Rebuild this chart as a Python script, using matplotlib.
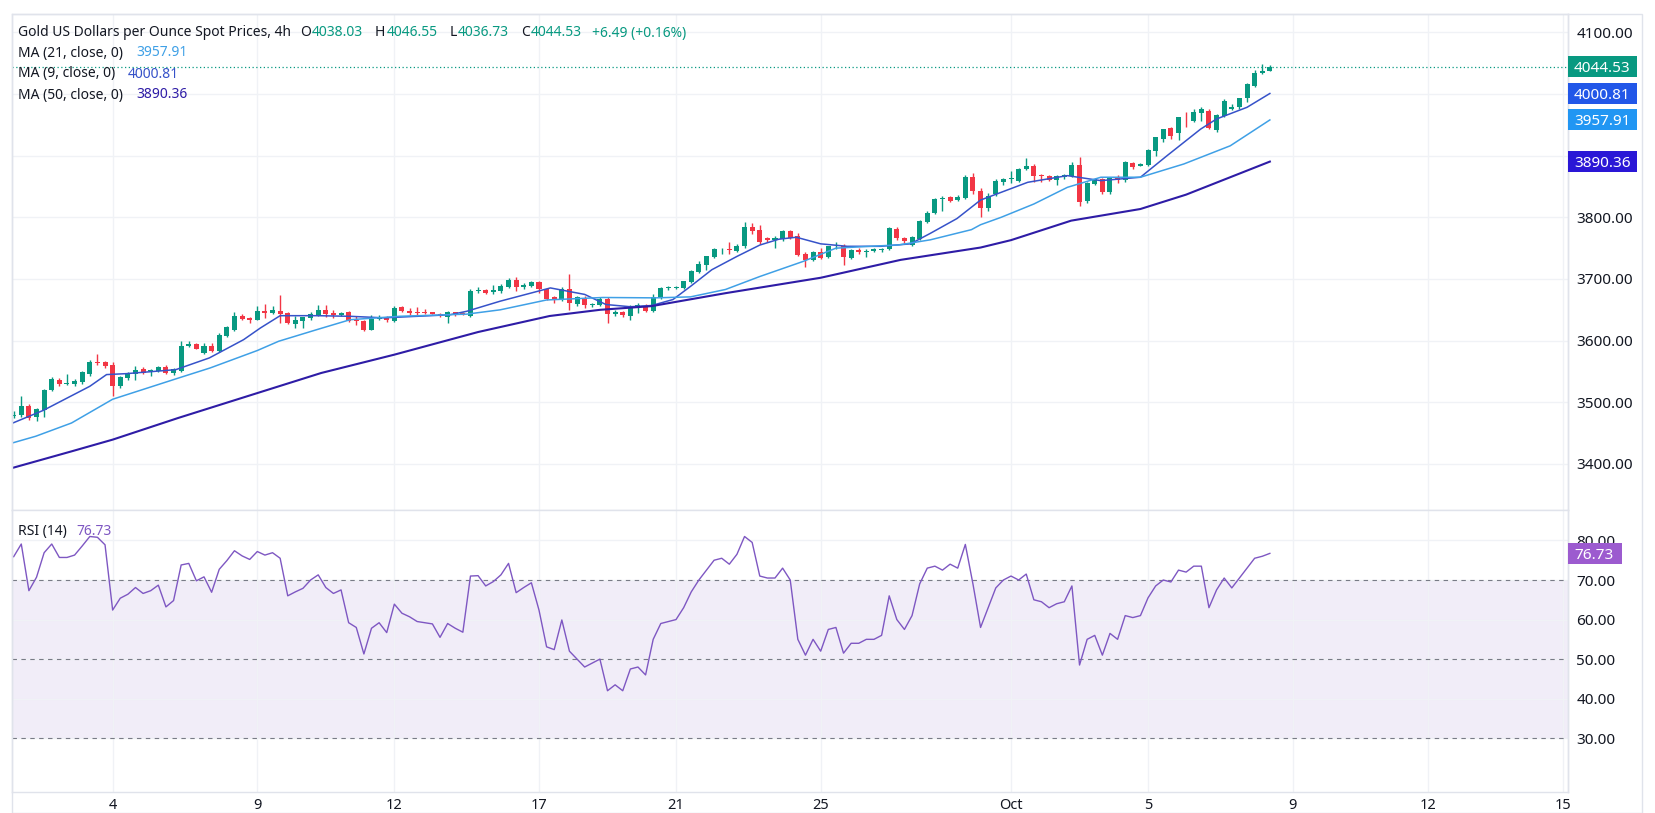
import matplotlib
matplotlib.use("Agg")
import matplotlib.pyplot as plt
from matplotlib.patches import Rectangle
from matplotlib.lines import Line2D

plt.rcParams['font.family'] = ['Noto Sans', 'DejaVu Sans']

# ---- data (4h candles, index 0 = first visible candle) ----
opens = [3478, 3480, 3494.6, 3476, 3488, 3519.5, 3537, 3530, 3530, 3533,
         3546.5, 3565, 3565, 3561, 3527, 3539.5, 3546, 3554, 3550, 3551.5,
         3557, 3547.6, 3551, 3591, 3595, 3580, 3592, 3582.5, 3608, 3618,
         3640.5, 3637, 3634, 3647.6, 3645, 3648.6, 3645, 3627.6, 3632.4, 3636.8,
         3642, 3650.3, 3645, 3642, 3646, 3634, 3631.4, 3618, 3635, 3638.4,
         3631.4, 3654, 3647.6, 3646, 3645, 3646, 3644, 3637.8, 3646.5, 3645,
         3639.5, 3681, 3681.6, 3678.4, 3680, 3686.6, 3698, 3687, 3689, 3694.6,
         3683, 3670, 3666.6, 3683.9, 3660, 3669.4, 3658, 3658.6, 3668, 3642.5,
         3646, 3640, 3657, 3657, 3648, 3669, 3685, 3685, 3685.5, 3694.6,
         3712, 3723, 3735.5, 3748, 3748, 3745.7, 3752.7, 3785, 3780, 3766,
         3764, 3764.7, 3778, 3770, 3741, 3731.6, 3743, 3736, 3753, 3754,
         3734, 3747.6, 3744, 3745, 3746.5, 3748.7, 3781.3, 3766, 3755.6, 3764.7,
         3793, 3806.4, 3830.5, 3833, 3828, 3832, 3865, 3843, 3815, 3838,
         3856.8, 3862, 3859.5, 3878.4, 3883.8, 3867.6, 3867.6, 3860, 3865, 3867,
         3885.4, 3826, 3854, 3862, 3840.5, 3864.9, 3860.5, 3888, 3884, 3885.4,
         3908, 3927, 3944.9, 3936, 3961, 3956.8, 3968.6, 3973, 3941.6, 3964.9,
         3976, 3978.4, 3993.5, 4013.5, 4033.5, 4038.03]
highs = [3486, 3510, 3498, 3490, 3521, 3541, 3539, 3546, 3538, 3550,
         3568, 3579, 3566.5, 3565, 3543, 3549, 3559, 3556.5, 3554, 3559,
         3561, 3555, 3599, 3599, 3596, 3596, 3597, 3613, 3624, 3646,
         3643, 3638, 3655.7, 3660, 3656.8, 3674.6, 3647, 3640, 3639, 3646,
         3658, 3658, 3650, 3647, 3648, 3640, 3633, 3642, 3642, 3640,
         3656, 3657, 3653, 3654, 3652, 3647, 3645, 3648, 3647, 3646,
         3683, 3687, 3683, 3690.8, 3692, 3701.6, 3703, 3694, 3697, 3696,
         3685, 3672, 3687, 3708.6, 3673, 3672, 3661, 3670, 3670, 3650,
         3648, 3658, 3661, 3659, 3676, 3687, 3688, 3689, 3697, 3714,
         3729, 3738, 3750, 3750, 3759.7, 3757, 3792, 3790, 3787, 3768,
         3770, 3779, 3779, 3775, 3743, 3745, 3751, 3754, 3760, 3756,
         3749, 3750, 3749, 3750, 3751, 3784, 3784, 3768, 3770, 3796,
         3810, 3832, 3834, 3835, 3836, 3868, 3871.4, 3848, 3840, 3862,
         3863, 3874.6, 3880, 3896, 3886, 3870, 3869, 3868, 3870, 3889,
         3897.3, 3857, 3863, 3864, 3866, 3868, 3891, 3890, 3888, 3910,
         3931, 3944, 3947, 3963, 3970, 3976, 3978.4, 3975, 3967, 3992,
         3983, 3994, 4018, 4039, 4048.6, 4046.55]
lows = [3474, 3476, 3472, 3470, 3476, 3518, 3527, 3528, 3527, 3530,
        3542, 3561, 3556, 3511, 3524, 3537, 3537, 3546, 3542, 3549,
        3546, 3545, 3549, 3590, 3586, 3579, 3581, 3581, 3606, 3616,
        3633, 3629, 3633, 3636.7, 3643, 3628.6, 3627, 3620.5, 3620, 3634,
        3640, 3639, 3637, 3640, 3630, 3626, 3616, 3617, 3633, 3631,
        3630, 3646, 3642, 3642, 3644, 3643, 3638, 3628.6, 3640, 3642,
        3638, 3677, 3676, 3676, 3678, 3685, 3681, 3684, 3687, 3677,
        3666, 3661, 3664, 3650.5, 3657, 3653, 3654, 3656, 3629, 3640,
        3638, 3634, 3645, 3646, 3646, 3667, 3682, 3683, 3684, 3693,
        3710, 3715, 3734, 3740, 3740, 3744, 3751, 3773, 3756, 3760,
        3750, 3762, 3765, 3738, 3720, 3729, 3732, 3734, 3748, 3723,
        3733, 3741, 3735, 3743, 3744, 3747, 3764, 3759, 3754, 3763,
        3791, 3805, 3811, 3825, 3826, 3830, 3838, 3800, 3810, 3834,
        3852, 3855, 3857, 3876, 3857, 3857, 3859, 3852, 3862, 3865,
        3818.9, 3823, 3852, 3837.8, 3838, 3855, 3858, 3878, 3883, 3884,
        3900, 3922, 3927, 3926, 3946, 3955, 3956.8, 3944, 3938, 3962,
        3974, 3976, 3986.5, 4012, 4032.4, 4036.73]
closes = [3480, 3494.6, 3475, 3489, 3520.5, 3538, 3530, 3531.5, 3534.5, 3548.6,
          3565.5, 3563.5, 3559, 3527, 3541.5, 3547.6, 3553, 3548, 3553, 3557,
          3547.6, 3554, 3592, 3595, 3586.5, 3591, 3582.5, 3609.7, 3621.6, 3640.5,
          3635, 3634, 3647.6, 3645, 3649, 3643.8, 3628.6, 3634, 3637.8, 3643.8,
          3650.3, 3643.8, 3642, 3645, 3631.4, 3631.4, 3617.8, 3635.7, 3638.4, 3633,
          3653, 3647.6, 3645, 3645, 3644.6, 3644, 3639.5, 3646.5, 3644, 3644,
          3681, 3681.6, 3677, 3682.5, 3688.2, 3698, 3686.6, 3691, 3694.6, 3683,
          3667.7, 3667.7, 3683.9, 3661, 3671, 3658.6, 3658.5, 3667.7, 3642.5, 3646,
          3641, 3656, 3657.5, 3648, 3671, 3685.5, 3685.5, 3687, 3696, 3712.4,
          3725, 3736.6, 3748.4, 3749, 3747, 3753.8, 3785, 3778.6, 3760, 3764,
          3766, 3778, 3766, 3739.6, 3731.6, 3743, 3734.5, 3753, 3753.5, 3735,
          3747.6, 3743, 3745, 3748, 3748.7, 3782.6, 3766, 3761, 3768, 3794.7,
          3807.5, 3830.5, 3832, 3826.7, 3833, 3865, 3843, 3815, 3835, 3858.4,
          3862, 3862.5, 3878.4, 3884, 3867, 3867.3, 3861, 3866.5, 3868, 3885.4,
          3824.3, 3855, 3862, 3840.5, 3864.9, 3860.5, 3889, 3882, 3886, 3909,
          3929.7, 3943.2, 3932.4, 3962.2, 3960.5, 3970.3, 3975.7, 3944.9, 3966.5, 3988,
          3979.4, 3993.5, 4016.2, 4033.5, 4037.8, 4044.53]

# moving averages, read at points along each line (candle index, value)
ma9_x = [-0.2, 3.9, 10, 12.2, 14.8, 21.3, 25.7, 30.2, 32.4, 35, 39.8, 44.2, 48.6, 53,
         57.3, 59.5, 63.9, 70.5, 75, 77.8, 81, 83.8, 86.6, 88.9, 91.7, 95, 98, 100.5,
         102.8, 106, 109.5, 113.9, 117.8, 120.4, 123.9, 127, 129.7, 133.2, 138.4,
         142.8, 148, 151.5, 155.9, 158, 162, 165]
ma9_v = [3466, 3487, 3526, 3545, 3546.5, 3553, 3572, 3601.6, 3620.5, 3640.5, 3640.5,
         3639.5, 3637, 3639.5, 3642, 3647.6, 3664, 3685.5, 3675, 3658.6, 3655, 3657,
         3666.7, 3688, 3715, 3736.6, 3755, 3764.5, 3767.7, 3757, 3753, 3753, 3757,
         3774, 3798, 3828, 3840.5, 3856.8, 3867.6, 3859.5, 3865, 3900, 3943, 3959.5,
         3978.4, 4000.81]
ma21_x = [-0.2, 2.9, 7.6, 13, 21.8, 25.8, 32, 34.8, 39.8, 44.2, 50.7, 59.5, 63.9, 70,
          77.4, 84.3, 88.9, 93.5, 98, 103.7, 108, 112, 116.3, 120.4, 125.8, 127, 129.7,
          134, 138.4, 142.8, 148, 153.7, 159.8, 165]
ma21_v = [3434, 3445, 3466.5, 3505, 3540, 3555.7, 3584, 3599, 3617.8, 3634, 3639.5,
          3643, 3650, 3666, 3670, 3669.4, 3671, 3683, 3704, 3728.5, 3750, 3752.7,
          3755.3, 3763.5, 3780, 3788, 3800, 3821.6, 3848.6, 3865, 3865, 3886.5, 3916,
          3957.91]
ma50_x = [-0.2, 7.6, 13, 21.6, 32, 40.4, 50, 61, 70.4, 77, 83.8, 93.5, 106, 116.5,
          127, 131, 138.9, 148, 154, 165]
ma50_v = [3393.5, 3420.5, 3439.5, 3474.6, 3515, 3547.6, 3577.3, 3614, 3640, 3650,
          3656, 3677, 3702, 3731, 3751, 3763, 3794.6, 3813.5, 3836.8, 3890.36]

rsi = [75.9, 79.1, 67.3, 70.7, 76.9, 79.1, 75.7, 75.7, 76.3, 78.6,
       81.0, 80.8, 78.9, 62.4, 65.4, 66.4, 68.1, 66.6, 67.3, 68.7,
       63.2, 64.8, 73.8, 74.2, 69.8, 70.8, 66.9, 72.7, 74.9, 77.4,
       76.1, 75.2, 77.2, 76.3, 76.9, 75.5, 66.0, 67.0, 67.9, 70.0,
       71.3, 68.1, 66.6, 67.5, 59.2, 58.0, 51.3, 57.8, 59.2, 56.7,
       63.9, 61.6, 60.7, 59.5, 59.2, 58.9, 55.5, 59.0, 57.8, 56.8,
       71.0, 71.1, 68.5, 69.6, 71.3, 74.2, 66.8, 68.1, 69.3, 62.4,
       53.1, 52.4, 59.9, 52, 50, 48, 49, 50, 42, 43.5,
       42, 47.5, 48, 46, 55, 59, 59.5, 60, 63, 67,
       70, 72.5, 75, 75.5, 74, 76.5, 81, 79.5, 71, 70.5,
       70.5, 73, 70, 55, 51, 55, 52, 57.5, 58, 51.5,
       54, 54, 55, 55, 56, 66, 60, 57.5, 61, 69,
       73, 73.5, 72.5, 74, 73, 79, 69, 58, 63, 68,
       70, 71, 70, 71.5, 65, 64.5, 63, 64, 64.5, 68.5,
       48.5, 55, 56, 51, 56.5, 55, 61, 60.5, 61, 65.5,
       68.5, 70, 69.5, 72.5, 72, 73.5, 73.5, 63, 67.5, 70.5,
       68, 70.5, 73, 75.5, 76, 76.73]

tick_pos = [13, 32, 50, 69, 87, 106, 131, 149, 168, 185.8, 203.5]
tick_lbl = ['4', '9', '12', '17', '21', '25', 'Oct', '5', '9', '12', '15']
price_ticks = [3400, 3500, 3600, 3700, 3800, 3900, 4000, 4100]
rsi_ticks = [30, 40, 50, 60, 70, 80]

UP, DOWN = '#089981', '#F23645'
TXT = '#131722'
GRID = '#F0F2F6'
BORDER = '#E0E3EB'
C_MA9, C_MA21, C_MA50 = '#3652C9', '#3FA0E6', '#2E1CA6'
B_MA9, B_MA21, B_MA50 = '#2257E8', '#2196F3', '#2A17D6'
PURPLE = '#7E57C2'

W, H = 1656, 813
fig = plt.figure(figsize=(W / 100, H / 100), dpi=100)


def rect(x0, y0, x1, y1):
    return [x0 / W, 1 - y1 / H, (x1 - x0) / W, (y1 - y0) / H]


ax = fig.add_axes(rect(12, 14, 1568, 510))
axr = fig.add_axes(rect(12, 510, 1568, 792), sharex=ax)

n = len(closes)
for i in range(n):
    col = UP if closes[i] >= opens[i] else DOWN
    ax.vlines(i, lows[i], highs[i], color=col, lw=1, zorder=3)
    lo = min(opens[i], closes[i])
    h = max(abs(closes[i] - opens[i]), 1.2)
    ax.bar(i, h, bottom=lo, width=0.66, color=col, lw=0, zorder=4)

ax.plot(ma9_x, ma9_v, color=C_MA9, lw=1.1, zorder=5)
ax.plot(ma21_x, ma21_v, color=C_MA21, lw=1.1, zorder=5)
ax.plot(ma50_x, ma50_v, color=C_MA50, lw=1.5, zorder=5)
ax.axhline(closes[-1], color=UP, lw=0.9, ls=(0, (1, 2)), zorder=2)

ax.set_xlim(-0.22, 204.16)
ax.set_ylim(3325.4, 4129.7)
ax.set_yticks(price_ticks)
# 4000.00 sits fully under the MA(9) value box in the original
ax.set_yticklabels(['' if v == 4000 else '%.2f' % v for v in price_ticks])

axr.plot(range(n), rsi, color=PURPLE, lw=1, zorder=4)
axr.axhspan(30, 70, color=PURPLE, alpha=0.1, lw=0)
for lv in (70, 50, 30):
    axr.axhline(lv, color='#787B86', lw=0.8, ls=(0, (4, 4)), zorder=3)
axr.set_ylim(16.4, 87.7)
axr.set_yticks(rsi_ticks)
axr.set_yticklabels(['%.2f' % v for v in rsi_ticks])

for a in (ax, axr):
    a.yaxis.tick_right()
    a.tick_params(axis='y', length=0, pad=6, labelsize=11, labelcolor=TXT)
    a.tick_params(axis='x', length=0, pad=4, labelsize=10.5, labelcolor=TXT)
    a.set_xticks(tick_pos)
    a.grid(True, color=GRID, lw=1, zorder=0)
    for s in a.spines.values():
        s.set_color(BORDER)
        s.set_linewidth(1)
ax.tick_params(axis='x', labelbottom=False)
axr.set_xticklabels(tick_lbl)
for t in axr.get_xticklabels():
    if t.get_text() == 'Oct':
        t.set_fontweight('bold')

# outer frame incl. price scale
fig.patches.append(Rectangle((12 / W, 0), (1642 - 12) / W, 1 - 14 / H,
                             transform=fig.transFigure, fill=False, ec=BORDER, lw=1))
fig.lines.append(Line2D([1568 / W, 1568 / W], [1 - 792 / H, 1 - 14 / H],
                        transform=fig.transFigure, color=BORDER, lw=1))


def value_box(a, y, label, color, width=69):
    ypx = a.transData.transform((0, y))[1]
    fig.patches.append(Rectangle((1568 / W, (ypx - 10.5) / H), width / W, 21 / H,
                                 transform=fig.transFigure, fc=color, ec='none',
                                 zorder=10))
    fig.text(1574 / W, ypx / H, label, color='white', fontsize=11, ha='left',
             va='center_baseline', zorder=11)


value_box(ax, closes[-1], '%.2f' % closes[-1], UP)
value_box(ax, ma9_v[-1], '%.2f' % ma9_v[-1], B_MA9)
value_box(ax, ma21_v[-1], '%.2f' % ma21_v[-1], B_MA21)
value_box(ax, ma50_v[-1], '%.2f' % ma50_v[-1], B_MA50)
value_box(axr, rsi[-1], '%.2f' % rsi[-1], '#9C5BCF', width=54)

renderer = fig.canvas.get_renderer()


def seq_text(x, y, parts, size=9.8):
    for s, col, gap in parts:
        t = fig.text(x / W, 1 - y / H, s, color=col, fontsize=size, ha='left', va='center')
        x += t.get_window_extent(renderer=renderer).width + gap


seq_text(18, 33, [('Gold US Dollars per Ounce Spot Prices, 4h', TXT, 9),
                  ('O', TXT, 1), ('%.2f' % opens[-1], UP, 12),
                  ('H', TXT, 1), ('%.2f' % highs[-1], UP, 12),
                  ('L', TXT, 1), ('%.2f' % lows[-1], UP, 12),
                  ('C', TXT, 1), ('%.2f' % closes[-1], UP, 10),
                  ('+6.49 (+0.16%)', UP, 0)], 10)
seq_text(18, 53, [('MA (21, close, 0)', TXT, 13), ('%.2f' % ma21_v[-1], C_MA21, 0)], 10)
seq_text(18, 74, [('MA (9, close, 0)', TXT, 13), ('%.2f' % ma9_v[-1], C_MA9, 0)], 10)
seq_text(18, 95, [('MA (50, close, 0)', TXT, 13), ('%.2f' % ma50_v[-1], C_MA50, 0)], 10)
seq_text(18, 531, [('RSI (14)', TXT, 10), ('%.2f' % rsi[-1], PURPLE, 0)], 10)

fig.savefig('out.png', dpi=100)
